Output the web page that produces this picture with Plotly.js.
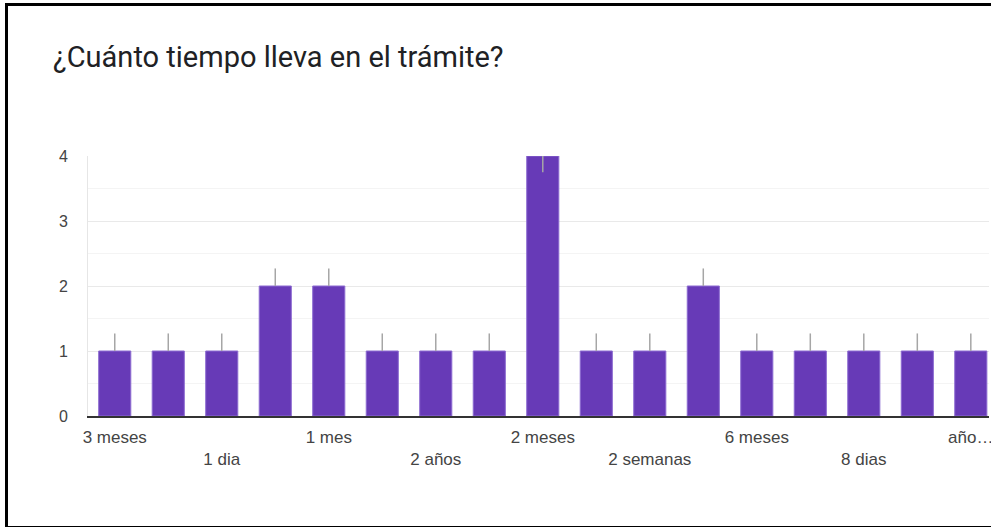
<!DOCTYPE html>
<html>
<head>
<meta charset="utf-8">
<script src="https://cdn.plot.ly/plotly-3.0.1.min.js"></script>
<style>
  html, body { margin: 0; padding: 0; background: #fff; overflow: hidden; }
  #wrap { position: relative; width: 991px; height: 527px; }
  #chart { position: absolute; left: 0; top: 0; width: 991px; height: 527px; }
  #frame { position: absolute; left: 5px; top: 3px; width: 1000px; height: 520px;
           border-left: 3px solid #000; border-top: 3px solid #000; border-bottom: 3px solid #000;
           box-sizing: content-box; pointer-events: none; }
</style>
</head>
<body>
<div id="wrap">
  <div id="chart"></div>
  <div id="frame"></div>
</div>
<script>
// Categories (hidden ones between labelled bars are estimated names)
const categories = ["3 meses", "1 año", "1 dia", "1 semana", "1 mes", "15 dias", "2 años", "2 dias",
                    "2 meses", "20 dias", "2 semanas", "4 meses", "6 meses", "7 meses", "8 dias", "9 meses", "año…"];
const counts = [1, 1, 1, 2, 2, 1, 1, 1, 4, 1, 1, 2, 1, 1, 1, 1, 1];
// tick labels shown (every other category, alternating rows)
const tickCats = ["3 meses", "1 dia", "1 mes", "2 años", "2 meses", "2 semanas", "6 meses", "8 dias", "año…"];
const tickLabels = ["3 meses", "<br>1 dia", "1 mes", "<br>2 años", "2 meses", "<br>2 semanas", "6 meses", "<br>8 dias", "año…"];
const errPlus = [0.27, 0.27, 0.27, 0.27, 0.27, 0.27, 0.27, 0.27, 0.27, 0.27, 0.27, 0.27, 0.27, 0.27, 0.27, 0.27, 0.27];
const errMinus = [0, 0, 0, 0, 0, 0, 0, 0, 0.25, 0, 0, 0, 0, 0, 0, 0, 0];
const yTicks = [0, 1, 2, 3, 4];

const trace = {
  type: "bar",
  x: categories,
  y: counts,
  marker: { color: "#673ab7", line: { color: "#8c6bd1", width: 1 } },
  error_y: { type: "data", symmetric: false, array: errPlus, arrayminus: errMinus,
             color: "#a6a6a6", thickness: 1.5, width: 0 },
  hoverinfo: "x+y"
};

const layout = {
  width: 991, height: 527,
  margin: { l: 88, r: 2, t: 156, b: 111 },
  paper_bgcolor: "rgba(0,0,0,0)",
  plot_bgcolor: "#fff",
  bargap: 0.4,
  showlegend: false,
  font: { family: "Arial, 'Liberation Sans', sans-serif", color: "#444" },
  title: {
    text: "¿Cuánto tiempo lleva en el trámite?",
    font: { family: "Roboto, Arial, sans-serif", size: 29, color: "#202124" },
    xref: "container", yref: "container",
    x: 53 / 991, xanchor: "left",
    y: 1 - 57 / 527, yanchor: "middle"
  },
  xaxis: {
    type: "category",
    range: [-0.5, 16.34],
    tickmode: "array",
    tickvals: tickCats,
    ticktext: tickLabels,
    tickfont: { size: 17, color: "#444", family: "Arial, 'Liberation Sans', sans-serif" },
    ticklabelstandoff: 5,
    showgrid: false,
    zeroline: false,
    showline: true, linecolor: "#333", linewidth: 1.5,
    ticks: ""
  },
  yaxis: {
    range: [0, 4],
    tickmode: "array",
    tickvals: yTicks,
    tickfont: { size: 16, color: "#444", family: "Arial, 'Liberation Sans', sans-serif" },
    ticklabelstandoff: 16,
    showgrid: true, gridcolor: "#e9e9e9", gridwidth: 1,
    minor: { dtick: 0.5, showgrid: true, gridcolor: "#f4f4f4", gridwidth: 1 },
    zeroline: false,
    showline: true, linecolor: "#e6e6e6", linewidth: 1,
    ticks: ""
  }
};

Plotly.newPlot("chart", [trace], layout, { displayModeBar: false, staticPlot: true });
</script>
</body>
</html>
